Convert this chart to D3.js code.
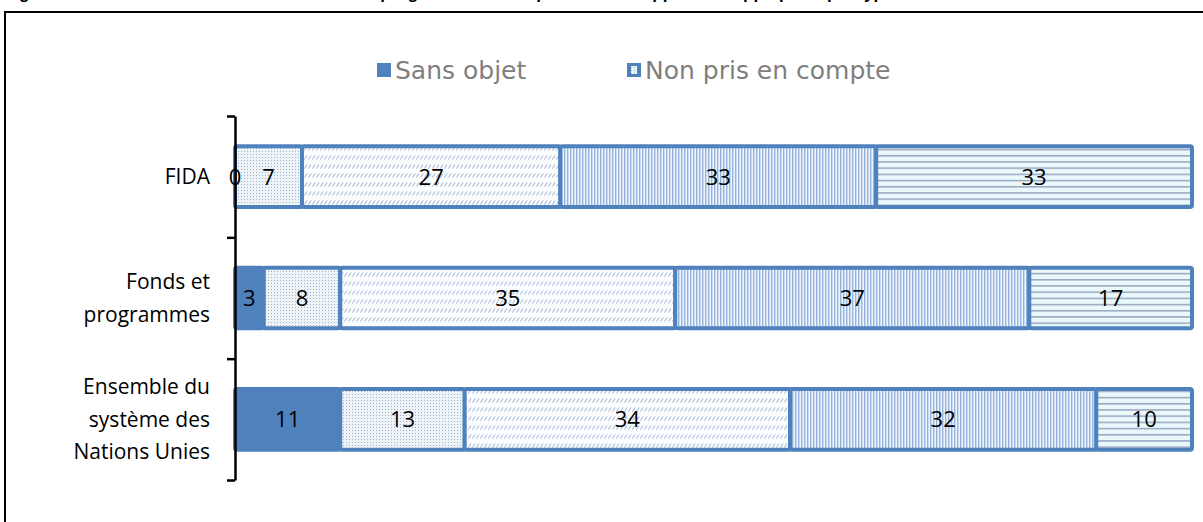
<!DOCTYPE html>
<html>
<head>
<meta charset="utf-8">
<script src="https://cdn.jsdelivr.net/npm/d3@7"></script>
<style>
  html, body { margin: 0; padding: 0; background: #fff; }
  svg { display: block; }
</style>
</head>
<body>
<svg id="chart" width="1203" height="522"></svg>
<script>
// ---- Data ----
const categories = ["FIDA", "Fonds et programmes", "Ensemble du système des Nations Unies"];
const categoryLines = [["FIDA"], ["Fonds et", "programmes"], ["Ensemble du", "système des", "Nations Unies"]];
const seriesNames = ["Sans objet", "Non pris en compte", "Partiellement pris en compte", "Pris en compte", "Pleinement pris en compte"];
const legendNames = ["Sans objet", "Non pris en compte"];
const sansObjet = [0, 3, 11];
const nonPris = [7, 8, 13];
const partiel = [27, 35, 34];
const pris = [33, 37, 32];
const pleinement = [33, 17, 10];
const seriesValues = [sansObjet, nonPris, partiel, pris, pleinement];
const titleText = "Figure 1. Résultats de l'examen des cadres de programmation : répartition des approches appliquées par type d'entité";

// ---- Setup ----
const svg = d3.select("#chart");
const blue = "#4F81BD";
const defs = svg.append("defs");

// dotted pattern
const pDots = defs.append("pattern").attr("id", "pDots").attr("patternUnits", "userSpaceOnUse")
  .attr("width", 3).attr("height", 3);
pDots.append("rect").attr("width", 3).attr("height", 3).attr("fill", "#eef3f7");
pDots.append("rect").attr("x", 1).attr("y", 1).attr("width", 1).attr("height", 1).attr("fill", "#9db1c8");

// diagonal dashes pattern
const pDiag = defs.append("pattern").attr("id", "pDiag").attr("patternUnits", "userSpaceOnUse")
  .attr("width", 4).attr("height", 9);
pDiag.append("rect").attr("width", 4).attr("height", 9).attr("fill", "#fbfcfe");
pDiag.append("line").attr("x1", 0.5).attr("y1", 6.5).attr("x2", 3).attr("y2", 2.5)
  .attr("stroke", "#98aecb").attr("stroke-width", 1);

// vertical lines pattern
const pVert = defs.append("pattern").attr("id", "pVert").attr("patternUnits", "userSpaceOnUse")
  .attr("width", 3).attr("height", 4);
pVert.append("rect").attr("width", 3).attr("height", 4).attr("fill", "#eef5fc");
pVert.append("rect").attr("x", 0).attr("width", 1.4).attr("height", 4).attr("fill", "#94b4de");

// horizontal lines pattern
const pHorz = defs.append("pattern").attr("id", "pHorz").attr("patternUnits", "userSpaceOnUse")
  .attr("width", 4).attr("height", 6.2);
pHorz.append("rect").attr("width", 4).attr("height", 6.2).attr("fill", "#eaf8fc");
pHorz.append("rect").attr("y", 0).attr("width", 4).attr("height", 1.5).attr("fill", "#98a6bf");

const fills = [blue, "url(#pDots)", "url(#pDiag)", "url(#pVert)", "url(#pHorz)"];

// Title (clipped at top, as in the reference)
svg.append("text").attr("x", 4).attr("y", -1)
  .attr("font-family", "Liberation Sans, Arial, sans-serif").attr("font-weight", "bold")
  .attr("font-size", 17).attr("fill", "#000").text(titleText);

// Frame
svg.append("rect").attr("x", 5).attr("y", 12).attr("width", 1300).attr("height", 700)
  .attr("fill", "none").attr("stroke", "#000").attr("stroke-width", 2);

// Scales
const x = d3.scaleLinear().domain([0, 100]).range([235, 1192]);
const y = d3.scaleBand().domain(categories).range([116, 480]).paddingInner(0.5).paddingOuter(0.25);

// Stack
const rows = categories.map((c, i) => {
  const o = { cat: c };
  seriesNames.forEach((s, j) => o[s] = seriesValues[j][i]);
  return o;
});
const stacked = d3.stack().keys(seriesNames)(rows);

const gBars = svg.append("g");
stacked.forEach((layer, si) => {
  gBars.append("g").selectAll("rect").data(layer).join("rect")
    .attr("x", d => x(d[0]))
    .attr("y", d => y(d.data.cat))
    .attr("width", d => x(d[1]) - x(d[0]))
    .attr("height", y.bandwidth())
    .attr("rx", 2).attr("ry", 2)
    .attr("fill", fills[si])
    .attr("stroke", blue).attr("stroke-width", 4);
});

// Value labels
stacked.forEach((layer, si) => {
  gBars.append("g").selectAll("text").data(layer).join("text")
    .attr("x", d => (x(d[0]) + x(d[1])) / 2)
    .attr("y", d => y(d.data.cat) + y.bandwidth() / 2)
    .attr("dy", "0.36em")
    .attr("text-anchor", "middle")
    .attr("font-family", "'Open Sans', Lato, sans-serif")
    .attr("font-size", 22).attr("fill", "#000")
    .text(d => d[1] - d[0]);
});

// Axis (category boundaries)
const yb = d3.scaleLinear().domain([0, 3]).range([116, 480]);
svg.append("g").attr("transform", "translate(235,0)")
  .call(d3.axisLeft(yb).tickValues([0, 1, 2, 3]).tickFormat("").tickSize(8).tickSizeOuter(0))
  .call(g => g.selectAll("path,line").attr("stroke", "#000").attr("stroke-width", 2.5));

// Category labels
const gCat = svg.append("g");
categories.forEach((c, i) => {
  const lines = categoryLines[i];
  const cy = y(c) + y.bandwidth() / 2;
  const lh = 32.5;
  const t = gCat.append("text").attr("text-anchor", "end")
    .attr("font-family", "'Open Sans', Lato, sans-serif").attr("font-size", 21).attr("fill", "#000");
  lines.forEach((ln, k) => {
    t.append("tspan").attr("x", 210)
      .attr("y", cy + (k - (lines.length - 1) / 2) * lh)
      .attr("dy", "0.36em").text(ln);
  });
});

// Legend
const legendX = [377, 627];
const gLeg = svg.append("g");
legendNames.forEach((n, i) => {
  const lx = legendX[i];
  gLeg.append("rect").attr("x", lx).attr("y", 63).attr("width", 14).attr("height", 14).attr("fill", blue);
  if (i === 1) {
    gLeg.append("rect").attr("x", lx + 4).attr("y", 66).attr("width", 6).attr("height", 8)
      .attr("fill", "url(#pDots)");
  }
  gLeg.append("text").attr("x", lx + 18).attr("y", 79)
    .attr("font-family", "'DejaVu Sans', Verdana, sans-serif").attr("font-size", 25)
    .attr("fill", "#7f7f7f").text(n);
});
</script>
</body>
</html>
